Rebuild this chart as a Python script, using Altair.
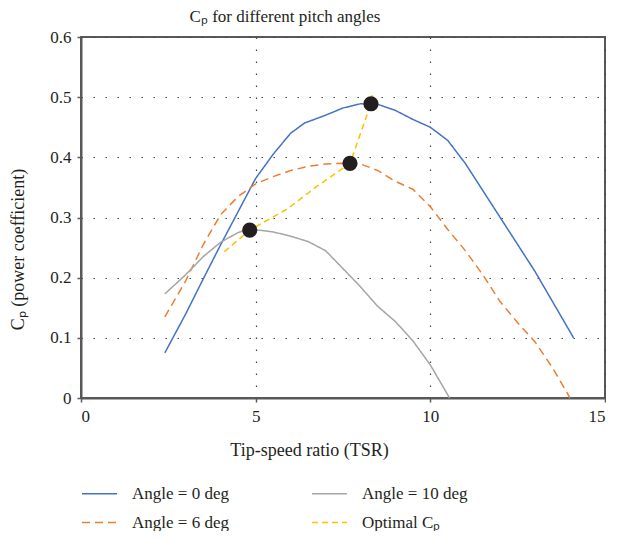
import altair as alt
import pandas as pd

# ---- data ----
S0 = "Angle = 0 deg"
S6 = "Angle = 6 deg"
S10 = "Angle = 10 deg"
SOPT = "Optimal Cₚ"

tsr_0 = [2.4, 3.0, 3.5, 4.0, 4.5, 5.0, 5.5, 6.0, 6.4, 7.0, 7.5, 8.0, 8.5, 9.0, 9.5, 10.0, 10.5, 11.0, 11.5, 12.0, 12.5, 13.0, 13.5, 14.1]
cp_0 = [0.075, 0.14, 0.198, 0.255, 0.31, 0.365, 0.405, 0.44, 0.457, 0.47, 0.482, 0.489, 0.488, 0.478, 0.463, 0.45, 0.428, 0.39, 0.345, 0.30, 0.255, 0.21, 0.16, 0.10]

tsr_6 = [2.4, 3.0, 3.5, 4.0, 4.5, 5.0, 5.5, 6.0, 6.5, 7.0, 7.5, 8.0, 8.5, 9.0, 9.5, 10.0, 10.5, 11.0, 11.5, 12.0, 12.5, 13.0, 13.5, 14.0]
cp_6 = [0.135, 0.195, 0.255, 0.305, 0.335, 0.356, 0.368, 0.378, 0.385, 0.389, 0.390, 0.389, 0.378, 0.36, 0.347, 0.318, 0.28, 0.245, 0.205, 0.16, 0.125, 0.093, 0.05, 0.0]

tsr_10 = [2.4, 3.0, 3.5, 4.0, 4.5, 4.8, 5.5, 6.0, 6.5, 7.0, 7.5, 8.0, 8.5, 9.0, 9.5, 10.0, 10.55]
cp_10 = [0.173, 0.205, 0.235, 0.259, 0.275, 0.281, 0.276, 0.269, 0.26, 0.245, 0.215, 0.185, 0.152, 0.127, 0.095, 0.055, 0.0]

tsr_opt_line = [4.1, 4.83, 5.9, 6.76, 7.7, 8.3, 8.35]
cp_opt_line = [0.243, 0.279, 0.314, 0.352, 0.39, 0.489, 0.51]

tsr_opt_pts = [4.83, 7.7, 8.3]
cp_opt_pts = [0.279, 0.39, 0.489]

# legend fills column by column: (0 deg, 6 deg) | (10 deg, optimal)
series_order = [S0, S6, S10, SOPT]
series_colors = ["#4472C4", "#ED7D31", "#A5A5A5", "#FFC000"]
series_dash = [[1, 0], [8, 5], [1, 0], [6, 4]]

x_ticks = [0, 5, 10, 15]
y_ticks = [0, 0.1, 0.2, 0.3, 0.4, 0.5, 0.6]

rows = []
for name, xs, ys in [(S0, tsr_0, cp_0), (S6, tsr_6, cp_6), (S10, tsr_10, cp_10), (SOPT, tsr_opt_line, cp_opt_line)]:
    for i, (a, b) in enumerate(zip(xs, ys)):
        rows.append({"series": name, "tsr": a, "cp": b, "i": i})
lines_df = pd.DataFrame(rows)
pts_df = pd.DataFrame({"tsr": tsr_opt_pts, "cp": cp_opt_pts})

FONT = "Liberation Serif"
TXT = "#231f20"

x_enc = alt.X("tsr:Q", scale=alt.Scale(domain=[0, 15], nice=False),
              axis=alt.Axis(values=x_ticks, title="Tip-speed ratio (TSR)", grid=True,
                            titleX=228, titleY=57, titleBaseline="alphabetic", titleAlign="center"))
y_enc = alt.Y("cp:Q", scale=alt.Scale(domain=[0, 0.6], nice=False),
              axis=alt.Axis(values=y_ticks, format=".1~f", title="Cₚ (power coefficient)", grid=True,
                            titleX=-63, titleY=212, titleAngle=270, titleAlign="center",
                            titleBaseline="middle"))

# custom line symbol: path spans -3..3 in unit box -> 3*sqrt(size) px long
leg = alt.Legend(title=None, orient="none", legendX=10, legendY=448, columns=2,
                 symbolType="M-3,0H3", symbolSize=136, symbolStrokeWidth=1.5,
                 labelFont=FONT, labelFontSize=17, labelColor=TXT, labelOffset=24,
                 columnPadding=80, rowPadding=11, labelLimit=300, padding=0)

lines = alt.Chart(lines_df).mark_line(strokeWidth=1.5).encode(
    x=x_enc, y=y_enc,
    color=alt.Color("series:N", scale=alt.Scale(domain=series_order, range=series_colors), legend=leg),
    strokeDash=alt.StrokeDash("series:N", scale=alt.Scale(domain=series_order, range=series_dash), legend=leg),
    order="i:Q",
)

points = alt.Chart(pts_df).mark_circle(size=230, color=TXT, opacity=1).encode(
    x="tsr:Q", y="cp:Q"
)

chart = alt.layer(lines, points).properties(
    width=524, height=361,
    background="white",
    padding={"left": 1, "top": 0, "right": 0, "bottom": 0},
    title=alt.TitleParams("Cₚ for different pitch angles", font=FONT, fontSize=17,
                          fontWeight="normal", color=TXT, dx=-58, offset=2),
).configure_view(
    stroke="#595959", strokeWidth=2
).configure_axis(
    labelFont=FONT, labelFontSize=17, labelColor=TXT, labelPadding=6,
    titleFont=FONT, titleFontSize=18, titleFontWeight="normal", titleColor=TXT,
    domainColor="#595959", domainWidth=2, tickColor="#595959", tickSize=4, tickWidth=1.5,
    gridColor="#444444", gridDash=[1.5, 10.5], gridWidth=1.2, gridOpacity=1,
)

chart.save("out.html", embed_options={"renderer": "svg", "actions": False})
